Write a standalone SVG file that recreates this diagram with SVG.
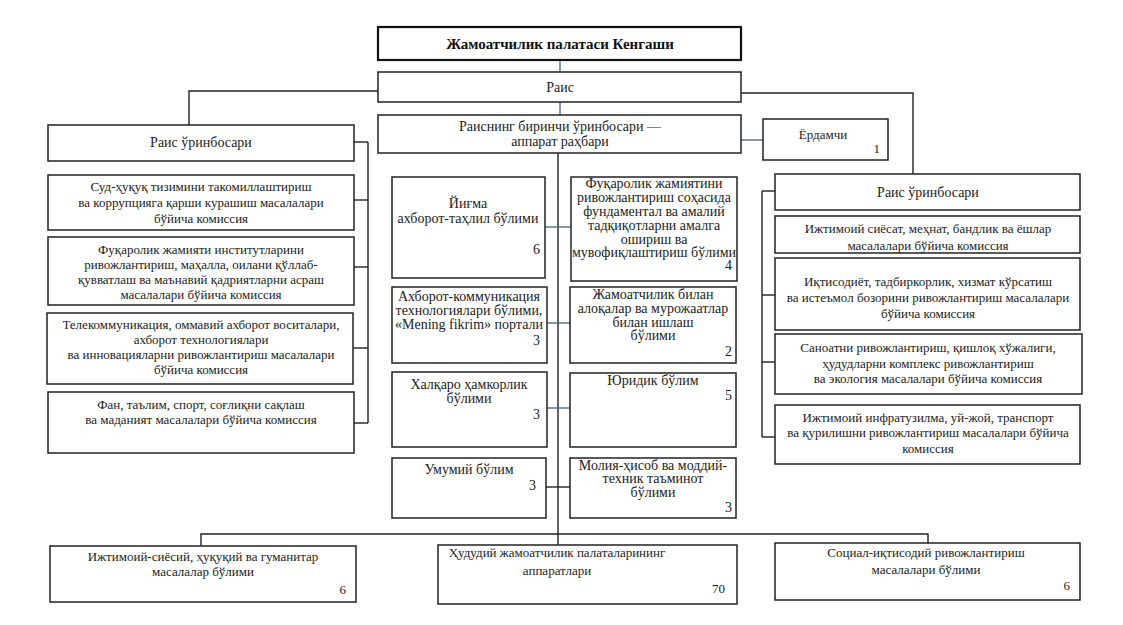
<svg xmlns="http://www.w3.org/2000/svg" width="1123" height="625" viewBox="0 0 1123 625" font-family="'Liberation Serif', 'Times New Roman', 'DejaVu Serif', serif">
<style>
.b{fill:#fff;stroke:#222;stroke-width:1.5}
.bt{fill:#fff;stroke:#111;stroke-width:2.2}
.c{fill:none;stroke:#222;stroke-width:1.4}
.cb{fill:none;stroke:#4f6b8a;stroke-width:1.4}
text{font-family:'Liberation Serif','Times New Roman','DejaVu Serif',serif;fill:#222;font-size:13px}
.m{text-anchor:middle}
.e{text-anchor:end}
.s14{font-size:14px}
.tt{font-size:15px;font-weight:bold;fill:#111}
</style>
<rect width="1123" height="625" fill="#fff"/>
<g id="connectors">
<line class="cb" x1="560" y1="60" x2="560" y2="72"/>
<line class="cb" x1="560" y1="102" x2="560" y2="115"/>
<polyline class="c" points="378,91 189,91 189,125"/>
<polyline class="c" points="741,93 913,93 913,174"/>
<line class="cb" x1="741" y1="140" x2="763" y2="140"/>
<line class="c" x1="558" y1="153" x2="558" y2="545"/>
<line class="cb" x1="545" y1="227" x2="571" y2="227"/>
<line class="cb" x1="547" y1="323" x2="570" y2="323"/>
<line class="cb" x1="547" y1="408" x2="570" y2="408"/>
<line class="c" x1="546" y1="487" x2="570" y2="487"/>
<polyline class="c" points="201,546 201,534 928,534 928,543"/>
<line class="c" x1="368" y1="142" x2="368" y2="423"/>
<line class="c" x1="354" y1="142" x2="368" y2="142"/>
<line class="c" x1="354" y1="200" x2="368" y2="200"/>
<line class="c" x1="354" y1="267" x2="368" y2="267"/>
<line class="c" x1="353" y1="348" x2="368" y2="348"/>
<line class="c" x1="354" y1="423" x2="368" y2="423"/>
<line class="c" x1="762" y1="191" x2="762" y2="437"/>
<line class="c" x1="762" y1="191" x2="775" y2="191"/>
<line class="c" x1="762" y1="295" x2="775" y2="295"/>
<line class="c" x1="762" y1="362" x2="775" y2="362"/>
<line class="c" x1="762" y1="437" x2="775" y2="437"/>
</g>
<g id="kengash">
<rect class="bt" x="378" y="27" width="363" height="33"/>
<text class="m tt" x="560" y="49">Жамоатчилик палатаси Кенгаши</text>
</g>
<g id="rais">
<rect class="b" x="378" y="72" width="363" height="30"/>
<text class="m s14" x="560" y="92">Раис</text>
</g>
<g id="birinchi">
<rect class="b" x="378" y="115" width="363" height="38"/>
<text class="m s14" x="560" y="131">Раиснинг биринчи ўринбосари —</text>
<text class="m s14" x="560" y="146">аппарат раҳбари</text>
</g>
<g id="yordamchi">
<rect class="b" x="763" y="119" width="125" height="41"/>
<text class="m" x="823" y="139">Ёрдамчи</text>
<text class="e" x="880" y="153">1</text>
</g>
<g id="rais-orin-left">
<rect class="b" x="48" y="125" width="306" height="36"/>
<text class="m s14" x="201" y="147">Раис ўринбосари</text>
</g>
<g id="sud">
<rect class="b" x="48" y="175" width="306" height="55"/>
<text class="m" x="201" y="191">Суд-ҳуқуқ тизимини такомиллаштириш</text>
<text class="m" x="201" y="207">ва коррупцияга қарши курашиш масалалари</text>
<text class="m" x="201" y="223">бўйича комиссия</text>
</g>
<g id="fuqarolik-inst">
<rect class="b" x="48" y="237" width="306" height="68"/>
<text class="m" x="201" y="254">Фуқаролик жамияти институтларини</text>
<text class="m" x="201" y="269">ривожлантириш, маҳалла, оилани қўллаб-</text>
<text class="m" x="201" y="284">қувватлаш ва маънавий қадриятларни асраш</text>
<text class="m" x="201" y="299">масалалари бўйича комиссия</text>
</g>
<g id="telekom">
<rect class="b" x="47" y="313" width="306" height="71"/>
<text class="m" x="201" y="329">Телекоммуникация, оммавий ахборот воситалари,</text>
<text class="m" x="201" y="344">ахборот технологиялари</text>
<text class="m" x="201" y="359">ва инновацияларни ривожлантириш масалалари</text>
<text class="m" x="201" y="374">бўйича комиссия</text>
</g>
<g id="fan">
<rect class="b" x="48" y="392" width="306" height="61"/>
<text class="m" x="201" y="409">Фан, таълим, спорт, соғлиқни сақлаш</text>
<text class="m" x="201" y="424">ва маданият масалалари бўйича комиссия</text>
</g>
<g id="yigma">
<rect class="b" x="392" y="177" width="153" height="101"/>
<text class="m s14" x="468" y="208">Йиғма</text>
<text class="m s14" x="468" y="223">ахборот-таҳлил бўлими</text>
<text class="e s14" x="540" y="254">6</text>
</g>
<g id="fundamental">
<rect class="b" x="571" y="177" width="166" height="104"/>
<text class="m s14" x="654" y="188">Фуқаролик жамиятини</text>
<text class="m s14" x="654" y="202">ривожлантириш соҳасида</text>
<text class="m s14" x="654" y="216">фундаментал ва амалий</text>
<text class="m s14" x="654" y="230">тадқиқотларни амалга</text>
<text class="m s14" x="654" y="244">ошириш ва</text>
<text class="m s14" x="654" y="257">мувофиқлаштириш бўлими</text>
<text class="e s14" x="732" y="270">4</text>
</g>
<g id="akt">
<rect class="b" x="392" y="287" width="155" height="76"/>
<text class="m s14" x="469" y="301">Ахборот-коммуникация</text>
<text class="m s14" x="469" y="315">технологиялари бўлими,</text>
<text class="m s14" x="469" y="329">«Mening fikrim» портали</text>
<text class="e s14" x="540" y="345">3</text>
</g>
<g id="murojaat">
<rect class="b" x="570" y="287" width="166" height="76"/>
<text class="m s14" x="653" y="299">Жамоатчилик билан</text>
<text class="m s14" x="653" y="313">алоқалар ва мурожаатлар</text>
<text class="m s14" x="653" y="327">билан ишлаш</text>
<text class="m s14" x="653" y="340">бўлими</text>
<text class="e s14" x="732" y="356">2</text>
</g>
<g id="xalqaro">
<rect class="b" x="392" y="372" width="155" height="75"/>
<text class="m s14" x="469" y="389">Халқаро ҳамкорлик</text>
<text class="m s14" x="469" y="403">бўлими</text>
<text class="e s14" x="540" y="419">3</text>
</g>
<g id="yuridik">
<rect class="b" x="570" y="373" width="166" height="74"/>
<text class="m s14" x="653" y="385">Юридик бўлим</text>
<text class="e s14" x="732" y="400">5</text>
</g>
<g id="umumiy">
<rect class="b" x="392" y="458" width="154" height="60"/>
<text class="m s14" x="469" y="474">Умумий бўлим</text>
<text class="e s14" x="536" y="490">3</text>
</g>
<g id="moliya">
<rect class="b" x="570" y="458" width="166" height="60"/>
<text class="m s14" x="653" y="470">Молия-ҳисоб ва моддий-</text>
<text class="m s14" x="653" y="483">техник таъминот</text>
<text class="m s14" x="653" y="497">бўлими</text>
<text class="e s14" x="732" y="512">3</text>
</g>
<g id="rais-orin-right">
<rect class="b" x="775" y="174" width="305" height="36"/>
<text class="m s14" x="928" y="197">Раис ўринбосари</text>
</g>
<g id="ijtimoiy-siyosat">
<rect class="b" x="775" y="216" width="305" height="37"/>
<text class="m" x="928" y="233">Ижтимоий сиёсат, меҳнат, бандлик ва ёшлар</text>
<text class="m" x="928" y="250">масалалари бўйича комиссия</text>
</g>
<g id="iqtisodiyot">
<rect class="b" x="775" y="258" width="305" height="72"/>
<text class="m" x="928" y="286">Иқтисодиёт, тадбиркорлик, хизмат кўрсатиш</text>
<text class="m" x="928" y="302">ва истеъмол бозорини ривожлантириш  масалалари</text>
<text class="m" x="928" y="318">бўйича комиссия</text>
</g>
<g id="sanoat">
<rect class="b" x="775" y="334" width="307" height="60"/>
<text class="m" x="928" y="352">Саноатни ривожлантириш, қишлоқ хўжалиги,</text>
<text class="m" x="928" y="368">ҳудудларни комплекс ривожлантириш</text>
<text class="m" x="928" y="383">ва экология масалалари бўйича комиссия</text>
</g>
<g id="infra">
<rect class="b" x="775" y="405" width="305" height="59"/>
<text class="m" x="928" y="422">Ижтимоий инфратузилма, уй-жой, транспорт</text>
<text class="m" x="928" y="437">ва қурилишни ривожлантириш масалалари бўйича</text>
<text class="m" x="928" y="453">комиссия</text>
</g>
<g id="ijtimoiy-siyosiy">
<rect class="b" x="50" y="546" width="306" height="56"/>
<text class="m" x="203" y="561">Ижтимоий-сиёсий, ҳуқуқий ва гуманитар</text>
<text class="m" x="203" y="576">масалалар бўлими</text>
<text class="e" x="346" y="594">6</text>
</g>
<g id="hududiy">
<rect class="b" x="438" y="545" width="299" height="59"/>
<text class="m" x="557" y="557">Ҳудудий жамоатчилик палаталарининг</text>
<text class="m" x="557" y="575">аппаратлари</text>
<text class="e" x="725" y="593">70</text>
</g>
<g id="sotsial">
<rect class="b" x="775" y="543" width="305" height="57"/>
<text class="m" x="926" y="557">Социал-иқтисодий ривожлантириш</text>
<text class="m" x="926" y="574">масалалари бўлими</text>
<text class="e" x="1070" y="590">6</text>
</g>
</svg>
